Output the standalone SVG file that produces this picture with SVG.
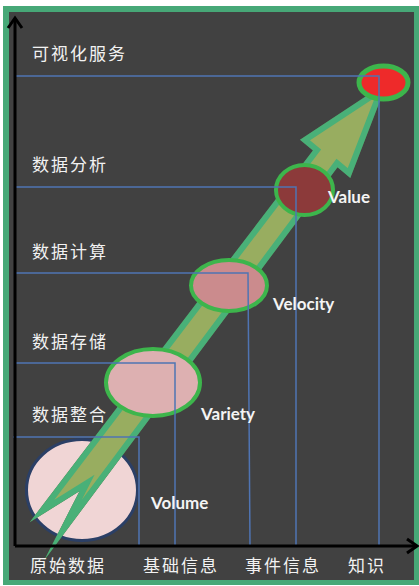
<svg xmlns="http://www.w3.org/2000/svg" width="419" height="586" viewBox="0 0 419 586">
<defs>
<style>
.cn{font-family:"Noto Sans CJK SC","Noto Sans",sans-serif;font-size:17px;fill:#f2f2f2;letter-spacing:2px}
.en{font-family:Lato,"Open Sans","Liberation Sans",sans-serif;font-size:17px;font-weight:bold;fill:#f4f4f4}
.guide{stroke:#4f74b3;stroke-width:1.5;fill:none}
.stage{stroke:#3db54c;stroke-width:4}
.axis{stroke:#000;stroke-width:3;fill:none}
</style>
<filter id="sh" x="-20%" y="-20%" width="140%" height="140%">
<feGaussianBlur in="SourceAlpha" stdDeviation="2"/>
<feOffset dx="3" dy="3"/>
<feComponentTransfer><feFuncA type="linear" slope="0.55"/></feComponentTransfer>
<feFlood flood-color="#5a4a20"/>
<feComposite operator="in" in2="SourceAlpha"/>
<feMerge><feMergeNode/><feMergeNode in="SourceGraphic"/></feMerge>
</filter>
</defs>
<rect x="0" y="0" width="419" height="586" fill="#ffffff"/>
<rect x="3" y="6" width="416" height="579" fill="#47a877"/>
<rect x="9" y="12" width="405" height="568" fill="#414141"/>

<g id="volume"><ellipse cx="82" cy="490" rx="55.5" ry="50.5" fill="#f0d5d5" stroke="#2b3f66" stroke-width="3"/></g>

<g id="arrow">
<polygon points="381,90 349,173 337,163 63,530 87,483 42,511 317,150 305,140" fill="#98ad60" stroke="#49b078" stroke-width="6" stroke-linejoin="miter" stroke-miterlimit="20" filter="url(#sh)"/>
</g>

<g id="variety"><ellipse class="stage" cx="153" cy="382.5" rx="47" ry="33.5" fill="#ddb0b1"/></g>
<g id="velocity"><ellipse class="stage" cx="229" cy="285.5" rx="38" ry="25.5" fill="#cb8b8d"/></g>
<g id="value"><ellipse class="stage" cx="304.5" cy="190" rx="28.5" ry="25" fill="#8c3a3a"/></g>
<g id="knowledge"><ellipse cx="383.5" cy="82.5" rx="24.5" ry="16.5" fill="#ee2a2a" stroke="#3db54c" stroke-width="5"/></g>

<g id="connectors">
<polyline class="guide" points="15,76 379,76 379,546"/>
<polyline class="guide" points="15,187 296,187 296,546"/>
<polyline class="guide" points="15,273 248,273 250,546"/>
<polyline class="guide" points="15,363 175,363 175,546"/>
<polyline class="guide" points="13,437 139,437 139,546"/>
</g>

<g id="axes">
<line class="axis" x1="15" y1="546" x2="15" y2="19"/>
<polyline class="axis" points="8,28 15,18 22,28"/>
<line class="axis" x1="15" y1="546" x2="416" y2="546"/>
<polyline class="axis" points="407,539 417,546 407,553"/>
</g>

<g id="labels">
<text class="cn" x="32" y="60">可视化服务</text>
<text class="cn" x="32" y="171">数据分析</text>
<text class="cn" x="32" y="258">数据计算</text>
<text class="cn" x="32" y="348">数据存储</text>
<text class="cn" x="32" y="421">数据整合</text>
<text class="cn" x="30" y="572">原始数据</text>
<text class="cn" x="143" y="572">基础信息</text>
<text class="cn" x="245" y="572">事件信息</text>
<text class="cn" x="348" y="572">知识</text>
<text class="en" x="328" y="203">Value</text>
<text class="en" x="273" y="310">Velocity</text>
<text class="en" x="201" y="420">Variety</text>
<text class="en" x="151" y="509">Volume</text>
</g>
</svg>
